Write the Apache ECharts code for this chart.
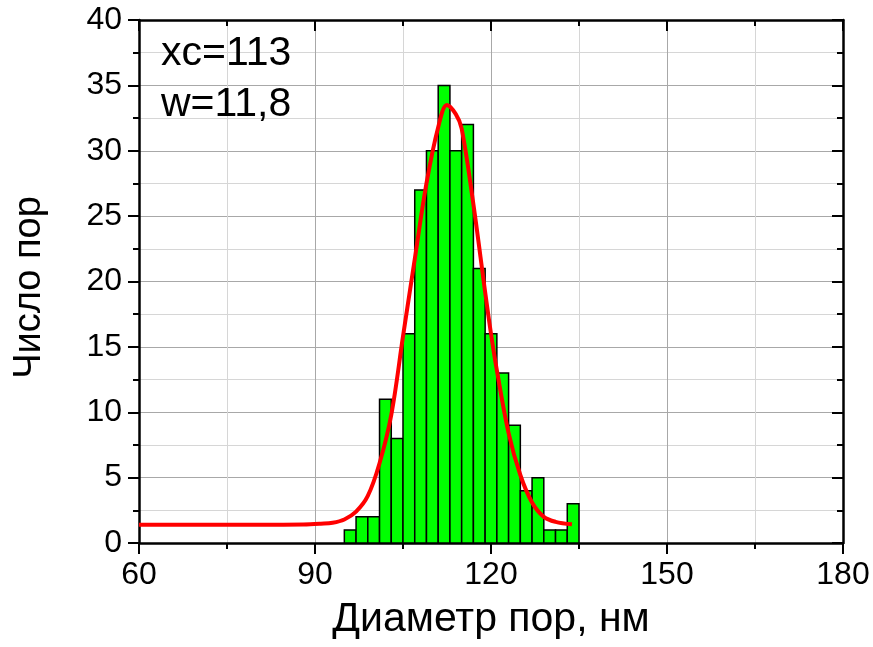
<!DOCTYPE html>
<html>
<head>
<meta charset="utf-8">
<script src="https://cdn.jsdelivr.net/npm/echarts@6/dist/echarts.min.js"></script>
<style>
  html, body { margin: 0; padding: 0; background: #ffffff; }
  #chart { width: 873px; height: 647px; }
</style>
</head>
<body>
<div id="chart"></div>
<script>
// Histogram of pore diameters (nm): bin edges and counts per bin
const binEdges = [95, 97, 99, 101, 103, 105, 107, 109, 111, 113, 115, 117, 119, 121, 123, 125, 127, 129, 131, 133, 135];
const counts = [1, 2, 2, 11, 8, 16, 27, 30, 35, 30, 32, 21, 16, 13, 9, 4, 5, 1, 1, 3];

// Gaussian fit curve, sampled points [diameter, count]
const fitX = [60, 70, 80, 88, 91, 93, 95, 97, 99, 101, 103, 105, 107, 109, 111, 112.5, 114, 115, 117, 119, 120, 121, 123, 125, 127, 129, 131, 133.8];
const fitY = [1.4, 1.4, 1.4, 1.42, 1.48, 1.55, 1.8, 2.4, 3.6, 6.1, 9.8, 15.8, 21.7, 27.5, 31.8, 33.5, 32.8, 31.7, 25.9, 19.2, 16.0, 13.2, 8.4, 5.2, 3.1, 2.0, 1.62, 1.43];

// Fit parameters shown in the corner
const fitLabels = ['xc=113', 'w=11,8'];

// Axis tick labels
const xTicks = [60, 90, 120, 150, 180];
const yTicks = [0, 5, 10, 15, 20, 25, 30, 35, 40];

const barData = counts.map((c, i) => [binEdges[i], binEdges[i + 1], c]);
const fitData = fitX.map((x, i) => [x, fitY[i]]);

const FONT = '"Liberation Sans", Arial, sans-serif';

const chart = echarts.init(document.getElementById('chart'), null, { renderer: 'canvas' });

const majorGrid = { show: true, lineStyle: { color: '#a8a8a8', width: 1 } };
const minorGrid = { show: true, lineStyle: { color: '#d6d6d6', width: 1 } };

chart.setOption({
  backgroundColor: '#ffffff',
  animation: false,
  grid: { left: 139, right: 30, top: 20, bottom: 104, containLabel: false },
  xAxis: [
    {
      type: 'value',
      min: xTicks[0],
      max: xTicks[xTicks.length - 1],
      interval: xTicks[1] - xTicks[0],
      position: 'bottom',
      name: 'Диаметр пор, нм',
      nameLocation: 'middle',
      nameGap: 56,
      nameTextStyle: { fontFamily: FONT, fontSize: 41, color: '#000' },
      axisLine: { show: true, onZero: false, lineStyle: { color: '#000', width: 2.5 } },
      axisTick: { show: true, inside: false, length: 11, lineStyle: { color: '#000', width: 2 } },
      minorTick: { show: true, splitNumber: 2, length: 6, lineStyle: { color: '#000', width: 2 } },
      axisLabel: { margin: 16, fontFamily: FONT, fontSize: 32, color: '#000' },
      splitLine: majorGrid,
      minorSplitLine: minorGrid
    },
    {
      type: 'value',
      min: xTicks[0],
      max: xTicks[xTicks.length - 1],
      interval: xTicks[1] - xTicks[0],
      position: 'top',
      axisLine: { show: true, onZero: false, lineStyle: { color: '#000', width: 2.5 } },
      axisTick: { show: true, inside: true, length: 11, lineStyle: { color: '#000', width: 2 } },
      minorTick: { show: true, splitNumber: 2, length: 6, lineStyle: { color: '#000', width: 2 } },
      axisLabel: { show: false },
      splitLine: { show: false }
    }
  ],
  yAxis: [
    {
      type: 'value',
      min: yTicks[0],
      max: yTicks[yTicks.length - 1],
      interval: yTicks[1] - yTicks[0],
      position: 'left',
      name: 'Число пор',
      nameLocation: 'middle',
      nameGap: 90,
      nameTextStyle: { fontFamily: FONT, fontSize: 38, color: '#000', padding: [0, 12, 0, 0] },
      axisLine: { show: true, onZero: false, lineStyle: { color: '#000', width: 2.5 } },
      axisTick: { show: true, inside: false, length: 11, lineStyle: { color: '#000', width: 2 } },
      minorTick: { show: true, splitNumber: 2, length: 6, lineStyle: { color: '#000', width: 2 } },
      axisLabel: { margin: 17, fontFamily: FONT, fontSize: 32, color: '#000' },
      splitLine: majorGrid,
      minorSplitLine: minorGrid
    },
    {
      type: 'value',
      min: yTicks[0],
      max: yTicks[yTicks.length - 1],
      interval: yTicks[1] - yTicks[0],
      position: 'right',
      axisLine: { show: true, onZero: false, lineStyle: { color: '#000', width: 2.5 } },
      axisTick: { show: true, inside: true, length: 11, lineStyle: { color: '#000', width: 2 } },
      minorTick: { show: true, splitNumber: 2, length: 6, lineStyle: { color: '#000', width: 2 } },
      axisLabel: { show: false },
      splitLine: { show: false }
    }
  ],
  series: [
    {
      name: 'histogram',
      type: 'custom',
      xAxisIndex: 0,
      yAxisIndex: 0,
      z: 3,
      data: barData,
      renderItem: function (params, api) {
        const topLeft = api.coord([api.value(0), api.value(2)]);
        const bottomRight = api.coord([api.value(1), 0]);
        return {
          type: 'rect',
          shape: {
            x: topLeft[0],
            y: topLeft[1],
            width: bottomRight[0] - topLeft[0],
            height: bottomRight[1] - topLeft[1]
          },
          style: { fill: '#00ff00', stroke: '#000000', lineWidth: 1.5 }
        };
      }
    },
    {
      name: 'fit',
      type: 'line',
      xAxisIndex: 0,
      yAxisIndex: 0,
      z: 4,
      data: fitData,
      smooth: 0.35,
      showSymbol: false,
      symbol: 'none',
      lineStyle: { color: '#ff0000', width: 4 }
    }
  ],
  graphic: [
    {
      type: 'text',
      left: 161,
      top: 33,
      z: 10,
      style: { text: fitLabels[0], font: '41px ' + FONT, fill: '#000' }
    },
    {
      type: 'text',
      left: 161,
      top: 84,
      z: 10,
      style: { text: fitLabels[1], font: '41px ' + FONT, fill: '#000' }
    }
  ]
});
</script>
</body>
</html>
